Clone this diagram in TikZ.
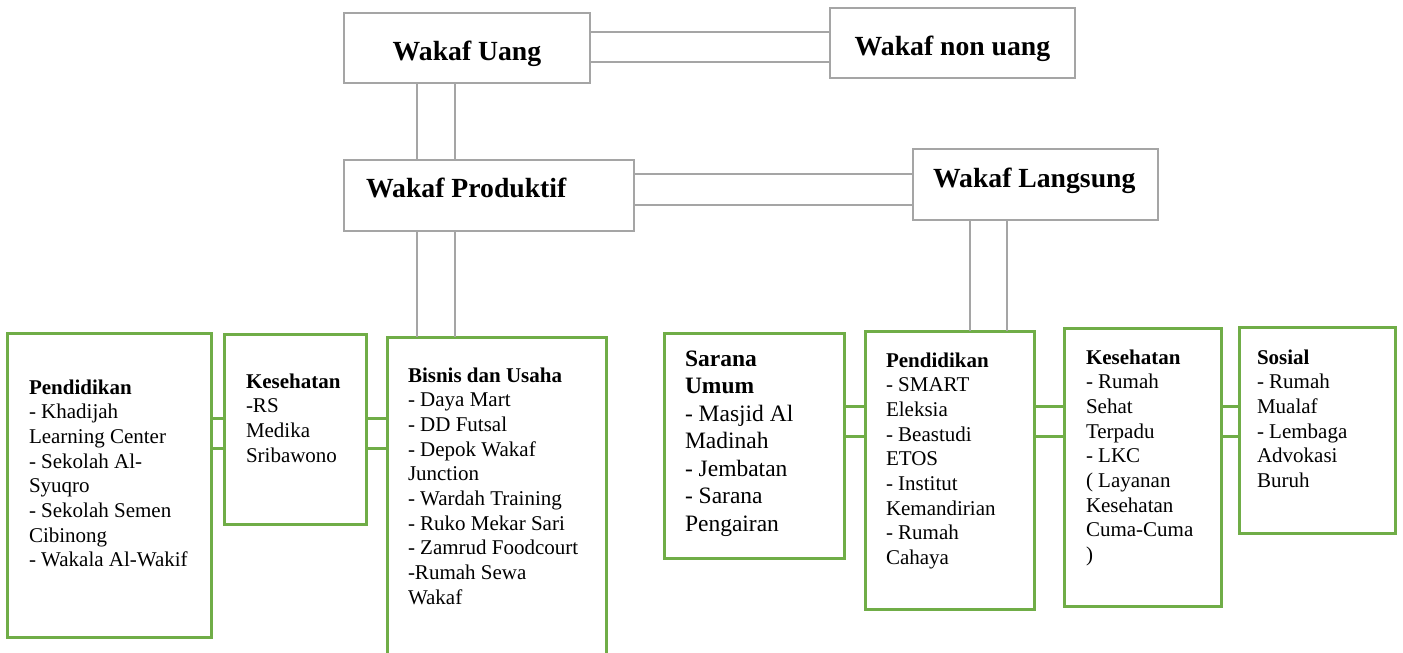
\documentclass[tikz,border=0pt]{standalone}
\usepackage{fontspec}
\setmainfont{Liberation Serif}
\definecolor{garisabu}{RGB}{165,165,165}
\definecolor{garishijau}{RGB}{112,173,71}
\newcommand{\judul}{\fontsize{27.7pt}{33pt}\selectfont\bfseries}
\newcommand{\isi}{\fontsize{21pt}{24.7pt}\selectfont}
\newcommand{\isibesar}{\fontsize{23.5pt}{27.5pt}\selectfont}
% #1 lebar, #2 tinggi, #3 jarak kiri, #4 jarak atas, #5 teks
\newcommand{\kotak}[5]{\parbox[t][#2][t]{#1}{\raggedright\setlength{\leftskip}{#3}\vspace*{#4}#5}}
\tikzset{
  kotakabu/.style={draw=garisabu, line width=2pt, rectangle, anchor=north west, inner sep=0pt, outer sep=0pt},
  kotakhijau/.style={draw=garishijau, line width=3pt, rectangle, anchor=north west, inner sep=0pt, outer sep=0pt, font=\isi},
  garisabu/.style={draw=garisabu, line width=2pt},
  garishijau/.style={draw=garishijau, line width=3pt}
}

\begin{document}
\begin{tikzpicture}[x=1pt, y=-1pt]
			\useasboundingbox (0,0) rectangle (1403,653);

			% Kotak atas
			\node[kotakabu, minimum width=246pt, minimum height=70pt, font=\judul, text height=24.8pt, text depth=0pt] (uang) at (344,13) {Wakaf Uang};
			\node[kotakabu, minimum width=245pt, minimum height=70pt, font=\judul, text height=24.8pt, text depth=0pt] (nonuang) at (830,8) {Wakaf non uang};
			\node[kotakabu, font=\judul] (produktif) at (344,160) {\kotak{290pt}{71pt}{22pt}{17.5pt}{Wakaf Produktif}};
			\node[kotakabu, font=\judul] (langsung) at (913,149) {\kotak{245pt}{71pt}{20pt}{18.5pt}{Wakaf Langsung}};

			% Kotak bawah
			\node[kotakhijau] (pend1) at (7,333) {\kotak{204pt}{304pt}{22pt}{46.5pt}{\textbf{Pendidikan}\\
				- Khadijah\\ Learning Center\\ - Sekolah Al-\\ Syuqro\\ - Sekolah Semen\\ Cibinong\\ - Wakala Al-Wakif}};
			\node[kotakhijau] (kes1) at (224,334) {\kotak{142pt}{190pt}{22pt}{39.5pt}{\textbf{Kesehatan}\\
				-RS\\ Medika\\ Sribawono}};
			\node[kotakhijau] (bisnis) at (387,337) {\kotak{219pt}{320pt}{21pt}{30.5pt}{\textbf{Bisnis dan Usaha}\\
				- Daya Mart\\ - DD Futsal\\ - Depok Wakaf\\ Junction\\ - Wardah Training\\ - Ruko Mekar Sari\\ - Zamrud Foodcourt\\ -Rumah Sewa\\ Wakaf}};
			\node[kotakhijau, font=\isibesar] (sarana) at (664,333) {\kotak{180pt}{225pt}{21pt}{17.5pt}{\textbf{Sarana}\\ \textbf{Umum}\\
				- Masjid Al\\ Madinah\\ - Jembatan\\ - Sarana\\ Pengairan}};
			\node[kotakhijau] (pend2) at (865,331) {\kotak{169pt}{278pt}{21pt}{21.5pt}{\textbf{Pendidikan}\\
				- SMART\\ Eleksia\\ - Beastudi\\ ETOS\\ - Institut\\ Kemandirian\\ - Rumah\\ Cahaya}};
			\node[kotakhijau] (kes2) at (1064,328) {\kotak{157pt}{278pt}{22pt}{21.5pt}{\textbf{Kesehatan}\\
				- Rumah\\ Sehat\\ Terpadu\\ - LKC\\ ( Layanan\\ Kesehatan\\ Cuma-Cuma\\ )}};
			\node[kotakhijau] (sosial) at (1239,327) {\kotak{156pt}{206pt}{18pt}{22.5pt}{\textbf{Sosial}\\
				- Rumah\\ Mualaf\\ - Lembaga\\ Advokasi\\ Buruh}};

			% Letak garis penghubung
			\coordinate (h1) at (0,32);  \coordinate (h2) at (0,62);
			\coordinate (h3) at (0,174); \coordinate (h4) at (0,205);
			\coordinate (h5) at (0,418); \coordinate (h6) at (0,448);
			\coordinate (h7) at (0,406); \coordinate (h8) at (0,436);
			\coordinate (v1) at (417,0); \coordinate (v2) at (455,0);
			\coordinate (v3) at (970,0); \coordinate (v4) at (1007,0);

			% Garis abu-abu
			\foreach \h in {h1,h2}
				\draw[garisabu] (uang.east |- \h) -- (nonuang.west |- \h);
			\foreach \v in {v1,v2} {
				\draw[garisabu] (uang.south -| \v) -- (produktif.north -| \v);
				\draw[garisabu] (produktif.south -| \v) -- (bisnis.north -| \v);
			}
			\foreach \h in {h3,h4}
				\draw[garisabu] (produktif.east |- \h) -- (langsung.west |- \h);
			\foreach \v in {v3,v4}
				\draw[garisabu] (langsung.south -| \v) -- (pend2.north -| \v);

			% Garis hijau
			\foreach \h in {h5,h6} {
				\draw[garishijau] (pend1.east |- \h) -- (kes1.west |- \h);
				\draw[garishijau] (kes1.east |- \h) -- (bisnis.west |- \h);
			}
			\foreach \a/\b in {sarana/pend2, pend2/kes2, kes2/sosial}
				\foreach \h in {h7,h8}
					\draw[garishijau] (\a.east |- \h) -- (\b.west |- \h);

		\end{tikzpicture}
\end{document}
